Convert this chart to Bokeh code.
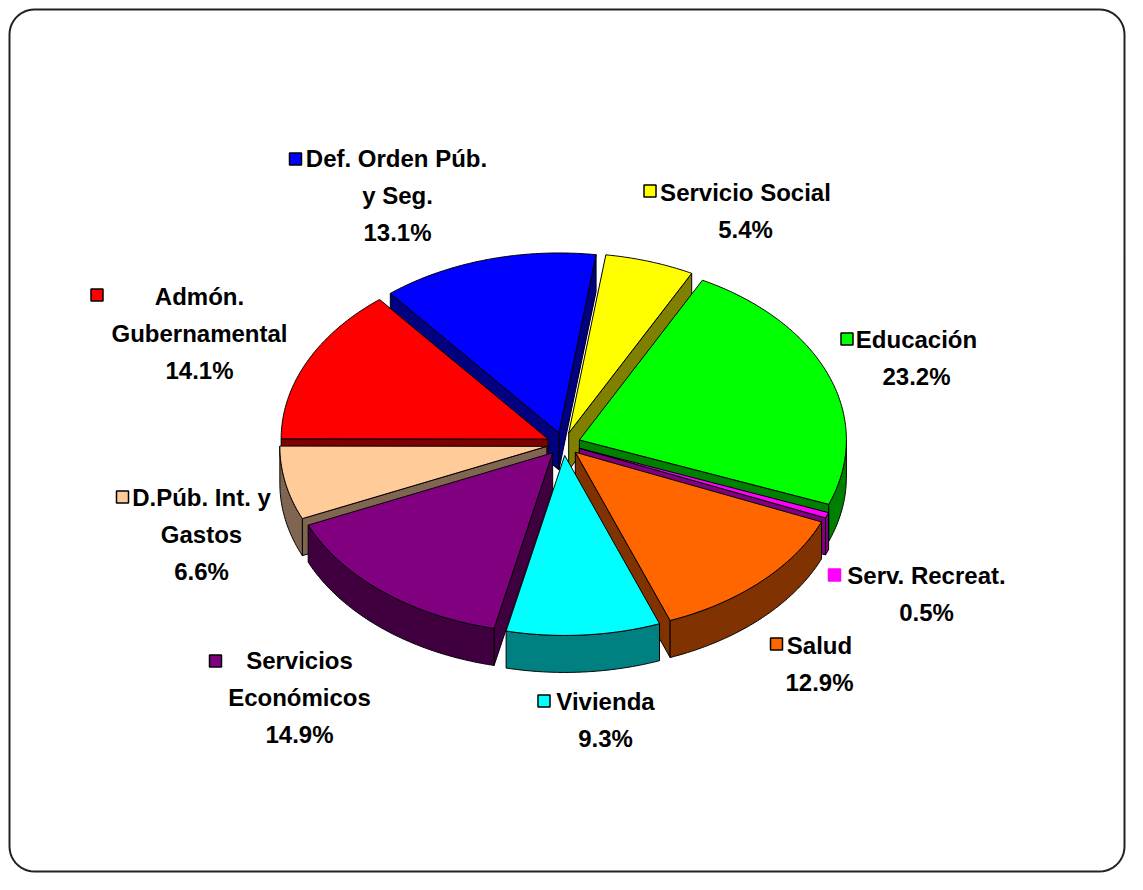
import numpy as np
from bokeh.plotting import figure
from bokeh.models import Range1d, ColumnDataSource
from bokeh.embed import file_html
from bokeh.resources import INLINE
from bokeh.core.properties import value

# ---------------- data ----------------
categories = ["Servicio Social", "Educación", "Serv. Recreat.", "Salud", "Vivienda",
              "Servicios Económicos", "D.Púb. Int. y Gastos", "Admón. Gubernamental",
              "Def. Orden Púb. y Seg."]
values = [5.4, 23.2, 0.5, 12.9, 9.3, 14.9, 6.6, 14.1, 13.1]
pct_labels = ["5.4%", "23.2%", "0.5%", "12.9%", "9.3%", "14.9%", "6.6%", "14.1%", "13.1%"]
label_text = [["Servicio Social"], ["Educación"], ["Serv. Recreat."], ["Salud"], ["Vivienda"],
              ["Servicios", "Económicos"], ["D.Púb. Int. y", "Gastos"],
              ["Admón.", "Gubernamental"], ["Def. Orden Púb.", "y Seg."]]
top_colors = ["#FFFF00", "#00FF00", "#FF00FF", "#FF6600", "#00FFFF",
              "#800080", "#FFCC99", "#FF0000", "#0000FF"]
side_colors = ["#808000", "#008000", "#800080", "#803300", "#008080",
               "#400040", "#806650", "#800000", "#000080"]

# ---------------- layout (screen-like coordinates) ----------------
label_x = [745, 916, 926, 819, 605, 299, 201, 199, 397]
label_y = [192, 339, 575, 645, 701, 660, 497, 296, 158]
line1_x = [745, 916, 926, 819, 605, 299, 201, 199, 396]
sq_x = [649.5, 846.5, 834, 776, 543.5, 215, 122, 96.5, 295]
sq_y = [190.5, 338.5, 574.5, 643.5, 700.5, 660.5, 496.5, 294.5, 158.5]
LINE_H = 37

CX, CY, RX, RY = 563.0, 443.5, 267.0, 180.0
EXP, DEPTH, ROT = 17.0, 37.0, 8.0
EY = EXP * RY / RX

W, H = 1127, 874
p = figure(width=W, height=H, output_backend="svg", toolbar_location=None,
           x_range=Range1d(0, W), y_range=Range1d(H, 0),
           x_axis_type=None, y_axis_type=None, min_border=0)
p.grid.visible = False
p.outline_line_color = None
p.background_fill_color = "white"
p.border_fill_color = "white"

# rounded frame
def rounded_rect(x0, y0, x1, y1, r):
    xs, ys = [], []
    corners = [(x1 - r, y0 + r, -90, 0), (x1 - r, y1 - r, 0, 90),
               (x0 + r, y1 - r, 90, 180), (x0 + r, y0 + r, 180, 270)]
    for cx_, cy_, a0, a1 in corners:
        for t in np.linspace(np.radians(a0), np.radians(a1), 12):
            xs.append(cx_ + r * np.cos(t))
            ys.append(cy_ + r * np.sin(t))
    xs.append(xs[0]); ys.append(ys[0])
    return xs, ys

fx, fy = rounded_rect(9, 9, 1124, 871, 25)
p.line(fx, fy, line_color="#222222", line_width=2)

# pie geometry
total = float(sum(values))
starts, ends = [], []
acc = ROT
for v in values:
    starts.append(acc)
    acc += v / total * 360.0
    ends.append(acc)

def rim(theta, mid, dz=0.0):
    t = np.radians(theta)
    m = np.radians(mid)
    return (CX + EXP * np.sin(m) + RX * np.sin(t),
            CY - EY * np.cos(m) - RY * np.cos(t) + dz)

def arc(a, b, mid, dz=0.0):
    n = max(int(abs(b - a) / 0.5), 2)
    th = np.linspace(a, b, n + 1)
    pts = [rim(t, mid, dz) for t in th]
    return [q[0] for q in pts], [q[1] for q in pts]

order = sorted(range(len(values)),
               key=lambda i: -np.cos(np.radians((starts[i] + ends[i]) / 2)))

xs_all, ys_all, fills = [], [], []
for i in order:
    a, b = starts[i], ends[i]
    mid = (a + b) / 2
    m = np.radians(mid)
    ax_, ay_ = CX + EXP * np.sin(m), CY - EY * np.cos(m)
    for ang, vis in ((a, np.sin(np.radians(a)) < 0), (b, np.sin(np.radians(b)) > 0)):
        if vis:
            rx_, ry_ = rim(ang, mid)
            xs_all.append([ax_, rx_, rx_, ax_])
            ys_all.append([ay_, ry_, ry_ + DEPTH, ay_ + DEPTH])
            fills.append(side_colors[i])
    lo, hi = max(a, 90.0), min(b, 270.0)
    if hi > lo:
        tx, ty = arc(lo, hi, mid)
        bx, by = arc(hi, lo, mid, DEPTH)
        xs_all.append(tx + bx)
        ys_all.append(ty + by)
        fills.append(side_colors[i])
    tx, ty = arc(a, b, mid)
    xs_all.append([ax_] + tx)
    ys_all.append([ay_] + ty)
    fills.append(top_colors[i])

src = ColumnDataSource(dict(xs=xs_all, ys=ys_all, fill=fills))
p.patches("xs", "ys", source=src, fill_color="fill", line_color="black", line_width=1)

# labels
tx, ty, tt = [], [], []
for i in range(len(values)):
    lines = label_text[i] + [pct_labels[i]]
    for k, ln in enumerate(lines):
        tx.append(line1_x[i] if k == 0 else label_x[i])
        ty.append(label_y[i] + k * LINE_H)
        tt.append(ln)
p.text(tx, ty, text=tt, text_font=value("Liberation Sans"), text_font_style="bold",
       text_font_size="24px", text_color="black", text_align="center",
       text_baseline="middle")

sq_line = ["black"] * len(values)
sq_line[2] = top_colors[2]
p.rect(sq_x, sq_y, width=12, height=12, fill_color=top_colors, line_color=sq_line,
       line_width=1.5)

open("out.html", "w").write(file_html(p, INLINE))
